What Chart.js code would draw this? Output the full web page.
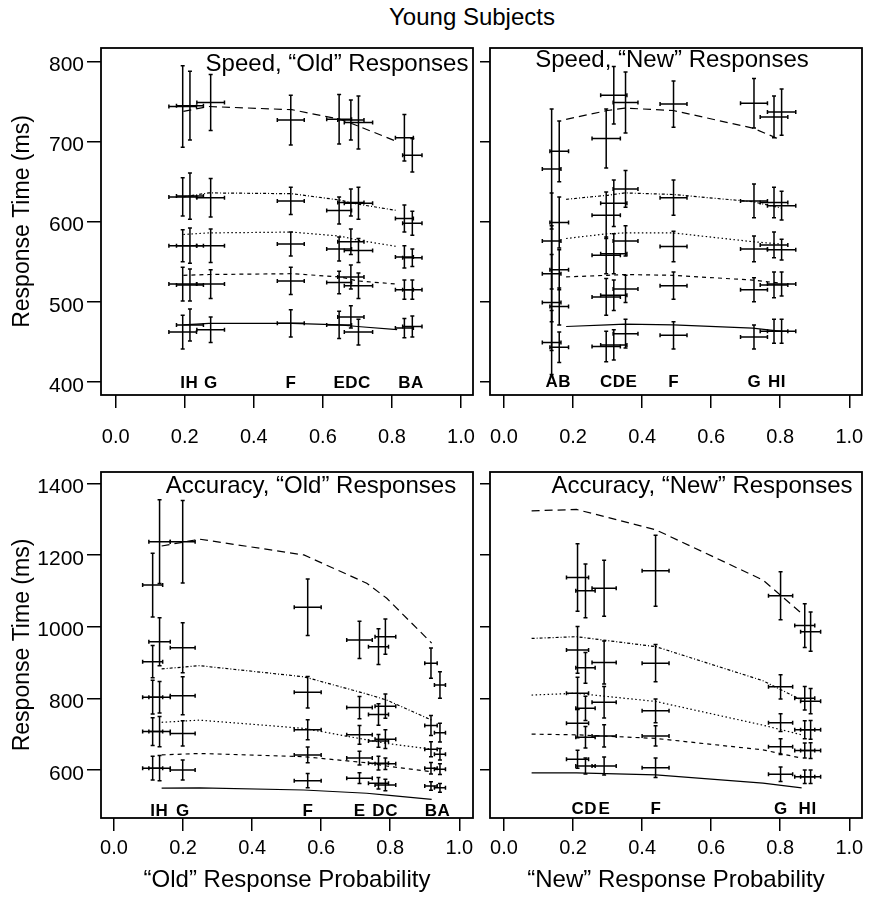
<!DOCTYPE html>
<html><head><meta charset="utf-8">
<script src="https://cdn.jsdelivr.net/npm/chart.js@4"></script>
<style>
html,body{margin:0;padding:0;background:#fff;}
body{width:871px;height:898px;position:relative;overflow:hidden;font-family:"Liberation Sans",Arial,sans-serif;}
.box{position:absolute;line-height:0;}
.t{position:absolute;white-space:nowrap;text-align:center;line-height:1;color:#000;width:400px;}
</style></head><body>
<div class="box" style="left:0;top:40px;"><canvas id="c1" width="480" height="420"></canvas></div>
<div class="box" style="left:480px;top:40px;"><canvas id="c2" width="391" height="420"></canvas></div>
<div class="box" style="left:0;top:460px;"><canvas id="c3" width="480" height="438"></canvas></div>
<div class="box" style="left:480px;top:460px;"><canvas id="c4" width="391" height="438"></canvas></div>
<div class="t" style="left:272px;top:5px;font-size:24px;">Young Subjects</div>
<div class="t" style="left:137px;top:51px;font-size:24px;">Speed, “Old” Responses</div>
<div class="t" style="left:472px;top:47px;font-size:24px;">Speed, “New” Responses</div>
<div class="t" style="left:111px;top:473px;font-size:24px;">Accuracy, “Old” Responses</div>
<div class="t" style="left:502px;top:473px;font-size:24px;">Accuracy, “New” Responses</div>
<script>
const quantiles = [0.1, 0.3, 0.5, 0.7, 0.9];
const xTickValues = [0, 0.2, 0.4, 0.6, 0.8, 1.0];
const speedTicks = [400, 500, 600, 700, 800];
const accTicks = [600, 800, 1000, 1200, 1400];

// Speed, "Old" Responses
const soLetters = ['A','B','C','D','E','F','G','H','I'];
const soProb    = [0.859,0.836,0.703,0.681,0.647,0.507,0.275,0.215,0.194];
const soProbErr = [0.028,0.026,0.041,0.038,0.036,0.039,0.040,0.039,0.040];
const soRT = [
  [469,467,462,481,471,473,465,471,462],
  [515,515,520,531,524,526,522,521,522],
  [555,556,564,575,566,572,570,570,570],
  [598,604,623,624,614,626,630,632,631],
  [683,705,724,727,728,727,749,745,744]
];
const soRTErr = [
  [13,12,16,14,17,17,16,20,21],
  [12,12,16,15,14,17,18,20,21],
  [11,14,15,16,15,15,21,22,20],
  [15,17,20,17,17,17,24,29,24],
  [21,29,33,25,31,31,35,43,51]
];
const soModelP = [0.196,0.27,0.51,0.65,0.70,0.815];
const soModelRT = [
  [471,473,473,471,469,465],
  [533,534,535,531,526,522],
  [584,586,587,582,577,569],
  [631,636,635,627,622,614],
  [738,744,740,728,720,700]
];

// Speed, "New" Responses
const snLetters = ['A','B','C','D','E','F','G','H','I'];
const snProb    = [0.138,0.160,0.296,0.318,0.352,0.491,0.724,0.782,0.804];
const snProbErr = [0.027,0.027,0.041,0.038,0.036,0.039,0.039,0.040,0.041];
const snRT = [
  [449,443,444,446,460,458,456,463,463],
  [499,494,506,508,516,520,515,521,522],
  [535,540,558,560,576,569,566,571,565],
  [576,599,608,623,641,630,626,624,620],
  [666,688,704,758,749,747,748,731,737]
];
const snRTErr = [
  [40,19,19,19,18,17,15,15,15],
  [60,23,23,19,17,17,15,16,15],
  [60,25,23,25,19,19,16,16,13],
  [60,32,29,29,23,22,21,19,18],
  [75,38,37,36,38,29,31,26,29]
];
const snModelP = [0.18,0.30,0.35,0.49,0.72,0.804];
const snModelRT = [
  [469,471,472,471,467,463],
  [531,533,534,533,527,523],
  [579,585,586,586,575,572],
  [628,633,636,634,625,617],
  [728,739,742,739,717,702]
];

// Accuracy, "Old" Responses
const aoLetters = ['A','B','C','D','E','F','G','H','I'];
const aoProb    = [0.944,0.918,0.786,0.766,0.711,0.561,0.199,0.132,0.112];
const aoProbErr = [0.016,0.018,0.030,0.029,0.037,0.039,0.036,0.031,0.029];
const aoRT = [
  [550,555,558,563,577,570,600,605,605],
  [602,605,617,619,633,642,702,707,707],
  [644,658,686,681,698,712,807,803,803],
  [704,724,778,755,774,817,941,958,902],
  [837,898,972,944,963,1054,1237,1237,1116]
];
const aoRTErr = [
  [12,12,16,16,15,20,28,35,33],
  [15,16,16,19,19,22,35,42,39],
  [16,21,26,18,26,28,53,44,47],
  [26,28,34,30,31,44,70,67,45],
  [37,42,49,50,52,79,115,117,89]
];
const aoModelP = [0.138,0.248,0.55,0.732,0.79,0.92];
const aoModelRT = [
  [549,550,544,535,530,518],
  [642,646,637,620,611,595],
  [733,739,716,684,674,658],
  [882,891,860,812,795,739],
  [1225,1244,1200,1121,1079,954]
];

// Accuracy, "New" Responses
const anLetters = ['C','D','E','F','G','H','I'];
const anProb    = [0.213,0.236,0.290,0.439,0.801,0.871,0.888];
const anProbErr = [0.032,0.028,0.035,0.039,0.035,0.029,0.029];
const anRT = [
  [630,611,611,606,588,581,581],
  [730,691,695,695,665,654,654],
  [814,772,789,765,732,712,712],
  [935,885,900,898,832,800,792],
  [1137,1100,1107,1156,1086,1003,986]
];
const anRTErr = [
  [25,22,25,27,20,19,19],
  [40,30,31,28,22,21,22],
  [45,34,44,33,25,25,26],
  [65,43,60,52,34,33,35],
  [94,75,78,99,67,61,55]
];
const anModelP = [0.08,0.21,0.44,0.75,0.862];
const anModelRT = [
  [592,592,586,563,550],
  [700,698,688,656,633],
  [809,814,791,725,698],
  [967,972,944,849,795],
  [1323,1327,1270,1130,1037]
];

Chart.defaults.font.family = '"Liberation Sans", Arial, sans-serif';
Chart.defaults.color = '#000';

const dashes = [[], [4,4], [1.5,2.5], [3,2,1,2], [8,5]];

const errPlugin = {
  id: 'errbars',
  afterDatasetsDraw(chart, args, opts) {
    const P = opts.panel; if (!P) return;
    const {ctx, chartArea: a} = chart;
    const x = chart.scales.x, y = chart.scales.y;
    ctx.save();
    ctx.beginPath(); ctx.rect(a.left, a.top, a.right - a.left, a.bottom - a.top); ctx.clip();
    ctx.strokeStyle = '#000'; ctx.lineWidth = 1.5;
    const cap = 2;
    P.rt.forEach((row, k) => row.forEach((v, i) => {
      const px = x.getPixelForValue(P.prob[i]);
      const py = y.getPixelForValue(v);
      const x0 = x.getPixelForValue(P.prob[i] - P.probErr[i]);
      const x1 = x.getPixelForValue(P.prob[i] + P.probErr[i]);
      const y0 = y.getPixelForValue(v - P.rtErr[k][i]);
      const y1 = y.getPixelForValue(v + P.rtErr[k][i]);
      ctx.beginPath();
      ctx.moveTo(x0, py); ctx.lineTo(x1, py);
      ctx.moveTo(x0, py - cap); ctx.lineTo(x0, py + cap);
      ctx.moveTo(x1, py - cap); ctx.lineTo(x1, py + cap);
      ctx.moveTo(px, y0); ctx.lineTo(px, y1);
      ctx.moveTo(px - cap, y0); ctx.lineTo(px + cap, y0);
      ctx.moveTo(px - cap, y1); ctx.lineTo(px + cap, y1);
      ctx.stroke();
    }));
    // condition letters
    ctx.font = 'bold 17px "Liberation Sans", Arial, sans-serif';
    ctx.fillStyle = '#000'; ctx.textAlign = 'center'; ctx.textBaseline = 'alphabetic';
    const items = P.letters.map((l, i) => ({l, px: x.getPixelForValue(P.prob[i]), w: ctx.measureText(l).width}))
      .sort((a1, b1) => a1.px - b1.px);
    for (let i = 1; i < items.length; i++) {
      const minGap = (items[i-1].w + items[i].w) / 2 + 0.5;
      if (items[i].px - items[i-1].px < minGap) items[i].px = items[i-1].px + minGap;
    }
    items.forEach(it => ctx.fillText(it.l, it.px, a.bottom - P.letterGap));
    ctx.restore();
    ctx.save();
    ctx.strokeStyle = '#000'; ctx.lineWidth = 1.8;
    ctx.strokeRect(a.left, a.top, a.right - a.left, a.bottom - a.top);
    ctx.restore();
  }
};
Chart.register(errPlugin);

function zeroPad(s) { s.paddingLeft = 0; s.paddingRight = 0; s.paddingTop = 0; s.paddingBottom = 0; }

function makePanel(id, P) {
  const datasets = P.model.map((curve, k) => ({
    type: 'line',
    label: 'q' + quantiles[k],
    data: P.modelP.map((xv, i) => ({x: xv, y: curve[i]})),
    borderColor: '#000', borderWidth: 1.2, borderDash: dashes[k],
    pointRadius: 0, fill: false, tension: 0
  }));
  datasets.push({
    type: 'scatter', label: 'data',
    data: P.rt.flatMap(row => row.map((v, i) => ({x: P.prob[i], y: v}))),
    pointRadius: 0
  });
  new Chart(document.getElementById(id), {
    type: 'scatter',
    data: {datasets},
    options: {
      responsive: false, animation: false, events: [],
      layout: {padding: {left: 0, top: P.padTop, right: P.padRight, bottom: 0}},
      plugins: {legend: {display: false}, tooltip: {enabled: false}, errbars: {panel: P}},
      scales: {
        x: {
          type: 'linear', min: P.xmin, max: P.xmax,
          afterBuildTicks: s => { s.ticks = xTickValues.map(v => ({value: v})); },
          afterFit: s => { s.height = P.xh; zeroPad(s); },
          border: {display: false},
          grid: {drawOnChartArea: false, drawTicks: true, tickLength: 13, color: '#000', lineWidth: 1.5},
          ticks: {color: '#000', font: {size: 20}, padding: P.xpad, maxRotation: 0, autoSkip: false,
                  callback: v => Number(v).toFixed(1)},
          title: {display: !!P.xtitle, text: P.xtitle || '', color: '#000', font: {size: 24}, padding: {top: 0, bottom: 3}}
        },
        y: {
          type: 'linear', min: P.ymin, max: P.ymax,
          afterBuildTicks: s => { s.ticks = P.yTicks.map(v => ({value: v})); },
          afterFit: s => { s.width = P.yw; zeroPad(s); },
          border: {display: false},
          grid: {drawOnChartArea: false, drawTicks: true, tickLength: 14, color: '#000', lineWidth: 1.5},
          ticks: {display: P.ylabels, color: '#000', font: {size: 21}, padding: 3, labelOffset: 4,
                  callback: v => String(v)},
          title: {display: P.ylabels, text: 'Response Time (ms)', color: '#000', font: {size: 23}, padding: {top: 9, bottom: 0}}
        }
      }
    }
  });
}

makePanel('c1', {letters: soLetters, prob: soProb, probErr: soProbErr, rt: soRT, rtErr: soRTErr,
  modelP: soModelP, model: soModelRT, xmin: -0.0426, xmax: 1.0347, ymin: 383.4, ymax: 817.1,
  yTicks: speedTicks, padTop: 8, padRight: 7, yw: 101, xh: 65, xpad: 17, ylabels: true, letterGap: 7});
makePanel('c2', {letters: snLetters, prob: snProb, probErr: snProbErr, rt: snRT, rtErr: snRTErr,
  modelP: snModelP, model: snModelRT, xmin: -0.0405, xmax: 1.0368, ymin: 383.4, ymax: 817.1,
  yTicks: speedTicks, padTop: 8, padRight: 9, yw: 10, xh: 65, xpad: 17, ylabels: false, letterGap: 8});
makePanel('c3', {letters: aoLetters, prob: aoProb, probErr: aoProbErr, rt: aoRT, rtErr: aoRTErr,
  modelP: aoModelP, model: aoModelRT, xmin: -0.0376, xmax: 1.0397, ymin: 465.9, ymax: 1431.5,
  yTicks: accTicks, padTop: 12, padRight: 7, yw: 101, xh: 80, xpad: 5, ylabels: true, letterGap: 2,
  xtitle: '“Old” Response Probability'});
makePanel('c4', {letters: anLetters, prob: anProb, probErr: anProbErr, rt: anRT, rtErr: anRTErr,
  modelP: anModelP, model: anModelRT, xmin: -0.0405, xmax: 1.0368, ymin: 465.9, ymax: 1431.5,
  yTicks: accTicks, padTop: 12, padRight: 9, yw: 10, xh: 80, xpad: 5, ylabels: false, letterGap: 4,
  xtitle: '“New” Response Probability'});
</script>
</body></html>
